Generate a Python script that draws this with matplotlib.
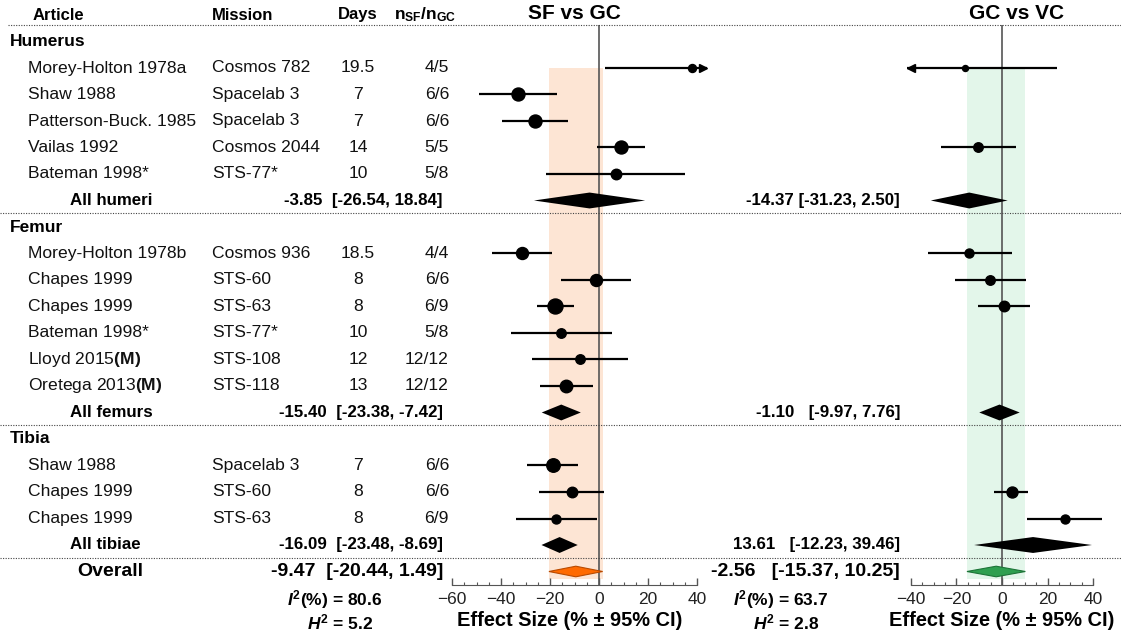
"""Forest plot of bone effect sizes: SF vs GC and GC vs VC."""

import numpy as np
import matplotlib
matplotlib.use('Agg')
import matplotlib.pyplot as plt
from matplotlib.ticker import MultipleLocator

plt.rcParams['font.family'] = ['Liberation Sans', 'DejaVu Sans']
plt.rcParams['mathtext.fontset'] = 'custom'
plt.rcParams['mathtext.rm'] = 'Liberation Sans:bold'
plt.rcParams['mathtext.bf'] = 'Liberation Sans:bold'
plt.rcParams['mathtext.it'] = 'Liberation Sans:italic:bold'

nan = np.nan

# Study table
groups = ['Humerus', 'Femur', 'Tibia']
bone = ['Humerus'] * 5 + ['Femur'] * 6 + ['Tibia'] * 3
articles = ['Morey-Holton 1978a', 'Shaw 1988', 'Patterson-Buck. 1985', 'Vailas 1992',
            'Bateman 1998*', 'Morey-Holton 1978b', 'Chapes 1999', 'Chapes 1999',
            'Bateman 1998*', r'Lloyd 2015$\mathrm{(M)}$', r'Oretega 2013$\mathrm{(M)}$',
            'Shaw 1988', 'Chapes 1999', 'Chapes 1999']
missions = ['Cosmos 782', 'Spacelab 3', 'Spacelab 3', 'Cosmos 2044', 'STS-77*',
            'Cosmos 936', 'STS-60', 'STS-63', 'STS-77*', 'STS-108', 'STS-118',
            'Spacelab 3', 'STS-60', 'STS-63']
days = ['19.5', '7', '7', '14', '10', '18.5', '8', '8', '10', '12', '13', '7', '8', '8']
n_ratio = ['4/5', '6/6', '6/6', '5/5', '5/8', '4/4', '6/6', '6/9', '5/8', '12/12',
           '12/12', '6/6', '6/6', '6/9']

# SF vs GC effect sizes
sf_est = [37.8, -32.9, -26.1, 9.0, 6.8, -31.6, -1.2, -17.8, -15.4, -7.8, -13.5,
          -18.7, -11.2, -17.6]
sf_lo = [2.4, -48.9, -39.7, -0.7, -21.6, -43.8, -15.6, -25.4, -36.0, -27.5, -24.1,
         -29.3, -24.4, -33.9]
sf_hi = [44.0, -17.0, -12.8, 18.8, 35.1, -19.3, 13.1, -10.2, 5.2, 12.0, -2.6,
         -8.4, 2.0, -0.9]
sf_size = [8, 13, 13, 13, 10.5, 12, 12, 15, 9.5, 9.5, 12.5, 13.5, 10.5, 9]
sf_arrows = {0: '>'}

# GC vs VC effect sizes
gc_est = [-16.2, nan, nan, -10.4, nan, -14.3, -5.3, 0.9, nan, nan, nan, nan, 4.2, 27.6]
gc_lo = [-41.7, nan, nan, -26.8, nan, -32.6, -20.6, -10.4, nan, nan, nan, nan, -3.4, 10.8]
gc_hi = [24.1, nan, nan, 6.1, nan, 4.5, 10.4, 12.3, nan, nan, nan, nan, 11.5, 44.0]
gc_size = [6, 0, 0, 9.5, 0, 9, 9.5, 10.5, 0, 0, 0, 0, 11, 9]
gc_arrows = {0: '<'}

# Pooled estimates
sum_names = ['All humeri', 'All femurs', 'All tibiae']
sf_sum = [-3.85, -15.40, -16.09]
sf_sum_lo = [-26.54, -23.38, -23.48]
sf_sum_hi = [18.84, -7.42, -8.69]
gc_sum = [-14.37, -1.10, 13.61]
gc_sum_lo = [-31.23, -9.97, -12.23]
gc_sum_hi = [2.50, 7.76, 39.46]
sf_overall = [-9.47, -20.44, 1.49]
gc_overall = [-2.56, -15.37, 10.25]
i2 = [80.6, 63.7]
h2 = [5.2, 2.8]


def prow(px):
    """Figure pixel height -> row coordinate."""
    return (px - 15) / 26.5


# Row layout
group_rows, study_rows, sum_rows = [], [], []
r = 1
for g in groups:
    group_rows.append(r)
    r += 1
    for b in bone:
        if b == g:
            study_rows.append(r)
            r += 1
    sum_rows.append(r)
    r += 1
overall_row = r

fig = plt.figure(figsize=(11.21, 6.34), dpi=100)

panels = [
    dict(x0=440, x1=720, zero=599, scale=2.45, est=sf_est, lo=sf_lo, hi=sf_hi,
         size=sf_size, arrows=sf_arrows, s=sf_sum, slo=sf_sum_lo, shi=sf_sum_hi,
         ov=sf_overall, shade='#fde5d4', fc='#ff6a00', ec='#b94a00', lim=(-60, 40)),
    dict(x0=895, x1=1115, zero=1002, scale=2.28, est=gc_est, lo=gc_lo, hi=gc_hi,
         size=gc_size, arrows=gc_arrows, s=gc_sum, slo=gc_sum_lo, shi=gc_sum_hi,
         ov=gc_overall, shade='#e3f6ea', fc='#2f9f50', ec='#1d7438', lim=(-40, 40)),
]

for p in panels:
    ax = fig.add_axes([p['x0'] / 1121, (634 - 585) / 634,
                       (p['x1'] - p['x0']) / 1121, (585 - 25) / 634])
    ax.patch.set_visible(False)
    ax.set_xlim((p['x0'] - p['zero']) / p['scale'], (p['x1'] - p['zero']) / p['scale'])
    ax.set_ylim(prow(585), prow(25))

    # shaded overall CI and zero line
    ax.fill_betweenx([study_rows[0], overall_row + 0.3], p['ov'][1], p['ov'][2],
                     color=p['shade'], lw=0, zorder=0)
    ax.axvline(0, color='#555555', lw=1.2, zorder=1)

    for i, y in enumerate(study_rows):
        if np.isnan(p['est'][i]):
            continue
        ax.hlines(y, p['lo'][i], p['hi'][i], color='black', lw=1.6, zorder=3)
        ax.plot(p['est'][i], y, 'o', ms=p['size'][i] / 1.389, color='black', zorder=4)
        if i in p['arrows']:
            m = p['arrows'][i]
            tip = p['hi'][i] if m == '>' else p['lo'][i]
            off = 1.6 if m == '>' else -1.6
            ax.plot(tip - off, y, marker=m, ms=6, color='black', zorder=4)

    for j, y in enumerate(sum_rows):
        h = 0.3
        ax.fill([p['slo'][j], p['s'][j], p['shi'][j], p['s'][j]],
                [y, y - h, y, y + h], color='black', lw=0, zorder=3)
    h = 0.2
    ax.fill([p['ov'][1], p['ov'][0], p['ov'][2], p['ov'][0]],
            [overall_row, overall_row - h, overall_row, overall_row + h],
            facecolor=p['fc'], edgecolor=p['ec'], lw=0.8, zorder=3)

    for side in ['top', 'left', 'right']:
        ax.spines[side].set_visible(False)
    ax.spines['bottom'].set_bounds(*p['lim'])
    ax.spines['bottom'].set_color('#555555')
    ax.set_yticks([])
    ax.xaxis.set_major_locator(MultipleLocator(20))
    ax.xaxis.set_minor_locator(MultipleLocator(5))
    ax.set_xticks(np.arange(p['lim'][0], p['lim'][1] + 1, 20))
    ax.set_xticks(np.arange(p['lim'][0], p['lim'][1] + 1, 5), minor=True)
    ax.tick_params(axis='x', which='major', direction='in', length=5, width=1,
                   color='#555555', labelsize=12.5, labelcolor='#222222', pad=5)
    ax.tick_params(axis='x', which='minor', direction='in', length=2.5, width=0.8,
                   color='#555555')

# Overlay for table text and separators (pixel x, row y)
bg = fig.add_axes([0, 0, 1, 1], zorder=10)
bg.patch.set_visible(False)
bg.set_xlim(0, 1121)
bg.set_ylim(prow(634), prow(0))
bg.axis('off')

dots = dict(color='#444444', lw=0.8, linestyle=(0, (1, 1.3)))
bg.plot([8, 1121], [prow(25), prow(25)], **dots)
for y in sum_rows:
    bg.plot([0, 1121], [y + 0.48, y + 0.48], **dots)

hdr = dict(fontsize=12, fontweight='bold', va='center')
bg.text(33, 0, 'Article', **hdr)
bg.text(212, 0, 'Mission', **hdr)
bg.text(358, 0, 'Days', ha='center', **hdr)
bg.text(425, 0, r'$\mathrm{n_{SF}/n_{GC}}$', ha='center', fontsize=12.5, va='center')
bg.text(574, -0.05, 'SF vs GC', ha='center', va='center', fontsize=15, fontweight='bold')
bg.text(1017, -0.05, 'GC vs VC', ha='center', va='center', fontsize=15, fontweight='bold')

for g, y in zip(groups, group_rows):
    bg.text(10, y, g, fontsize=12.5, fontweight='bold', va='center')

row_font = dict(fontsize=12.6, va='center', color='#111111')
for i, y in enumerate(study_rows):
    bg.text(28, y, articles[i], **row_font)
    bg.text(212, y, missions[i], **row_font)
    bg.text(358, y, days[i], ha='center', **row_font)
    bg.text(449, y, n_ratio[i], ha='right', **row_font)

for j, y in enumerate(sum_rows):
    bg.text(70, y, sum_names[j], fontsize=12.2, fontweight='bold', va='center')
    bg.text(443, y, '{:.2f}  [{:.2f}, {:.2f}]'.format(sf_sum[j], sf_sum_lo[j], sf_sum_hi[j]),
            ha='right', fontsize=12.2, fontweight='bold', va='center')
    gap = ' ' if j == 0 else '   '
    bg.text(900, y, '{:.2f}{}[{:.2f}, {:.2f}]'.format(gc_sum[j], gap, gc_sum_lo[j], gc_sum_hi[j]),
            ha='right', fontsize=12.2, fontweight='bold', va='center')

bg.text(110, overall_row, 'Overall', ha='center', fontsize=14, fontweight='bold', va='center')
bg.text(443, overall_row, '{:.2f}  [{:.2f}, {:.2f}]'.format(*sf_overall),
        ha='right', fontsize=14, fontweight='bold', va='center')
bg.text(900, overall_row, '{:.2f}   [{:.2f}, {:.2f}]'.format(*gc_overall),
        ha='right', fontsize=14, fontweight='bold', va='center')

for xc, iv, hv in zip([335, 781], i2, h2):
    bg.text(xc, prow(600), r'$I^2$(%) = {}'.format(iv), ha='center', va='center',
            fontsize=12.5, fontweight='bold')
    bg.text(xc + 5, prow(622), r'$H^2$ = {}'.format(hv), ha='center', va='center',
            fontsize=12.5, fontweight='bold')

for xc in [570, 1002]:
    bg.text(xc, prow(621), 'Effect Size (% \u00b1 95% CI)', ha='center', va='center',
            fontsize=14.4, fontweight='bold')

fig.savefig('out.png', dpi=100)
